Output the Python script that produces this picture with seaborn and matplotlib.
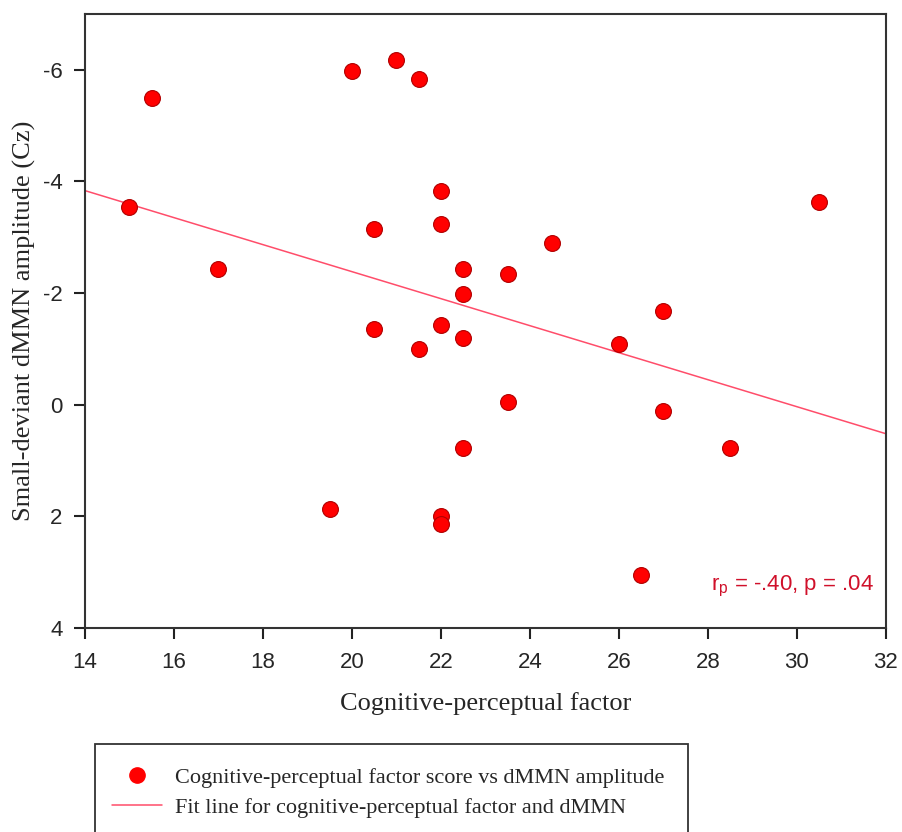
import matplotlib
matplotlib.use('agg')
import matplotlib.pyplot as plt
import matplotlib.patches as mpatches
from matplotlib.lines import Line2D
import seaborn as sns
import pandas as pd

# data
factor_score = [15, 15.5, 17, 20, 21, 21.5, 20.5, 20.5, 21.5, 22, 22, 22, 22.5, 22.5,
                22.5, 23.5, 24.5, 23.5, 22.5, 19.5, 22, 22, 26, 27, 27, 28.5, 26.5, 30.5]
dmmn_amp = [-3.55, -5.5, -2.44, -5.97, -6.17, -5.83, -3.15, -1.35, -0.99, -3.82, -3.24,
            -1.42, -2.44, -1.99, -1.19, -2.35, -2.9, -0.04, 0.77, 1.86, 2.0, 2.13,
            -1.08, -1.68, 0.11, 0.77, 3.05, -3.64]
x_ticks = [14, 16, 18, 20, 22, 24, 26, 28, 30, 32]
y_ticks = [-6, -4, -2, 0, 2, 4]

df = pd.DataFrame({'factor': factor_score, 'amp': dmmn_amp})

sns.set_style('ticks')
plt.rcParams['axes.unicode_minus'] = False
serif = ['Liberation Serif', 'DejaVu Serif']
sans = ['Liberation Sans', 'DejaVu Sans']

fig = plt.figure(figsize=(9.02, 8.32), dpi=100)
ax = fig.add_axes([0.0942, 0.2452, 0.888, 0.738])
ax.set_xlim(14, 32)
ax.set_ylim(4, -7)

line_col = '#ff4d6a'
dot_col = '#ff0000'

sns.regplot(data=df, x='factor', y='amp', ax=ax, ci=None, truncate=False,
            scatter_kws=dict(s=130, color=dot_col, edgecolor='#b00000', linewidths=0.8, alpha=1, zorder=3),
            line_kws=dict(color=line_col, lw=1.1, zorder=2))
ax.set_xlim(14, 32)
ax.set_ylim(4, -7)

ax.set_xticks(x_ticks)
ax.set_yticks(y_ticks)
for lab in ax.get_xticklabels() + ax.get_yticklabels():
    lab.set_family(sans)
    lab.set_fontsize(16)
ax.tick_params(direction='out', length=8, width=1.5, color='#222222')
ax.tick_params(axis='x', pad=9)
ax.tick_params(axis='y', pad=8)
for s in ax.spines.values():
    s.set_linewidth(1.5)
    s.set_color('#333333')

ax.set_xlabel('Cognitive-perceptual factor', family=serif, fontsize=19, labelpad=14)
ax.set_ylabel('Small-deviant dMMN amplitude (Cz)', family=serif, fontsize=19, labelpad=5)

ax.text(0.985, 0.047, r'r$_\mathregular{p}$ = -.40, p = .04', transform=ax.transAxes,
        ha='right', va='bottom', color='#d0102a', fontsize=16, family=sans)

# legend box, cut off at the bottom of the image like the original
fig.patches.append(mpatches.Rectangle((0.1053, -0.05), 0.657, 0.1558, transform=fig.transFigure,
                                      fill=False, edgecolor='#333333', lw=1.3))
handles = [Line2D([], [], ls='none', marker='o', markersize=11, color=dot_col),
           Line2D([], [], color=line_col, lw=1.1)]
labels = ['Cognitive-perceptual factor score vs dMMN amplitude',
          'Fit line for cognitive-perceptual factor and dMMN']
fig.legend(handles, labels, loc='upper left', bbox_to_anchor=(0.1242, 0.078),
           frameon=False, prop={'family': serif, 'size': 16}, handlelength=2.25,
           handletextpad=0.6, labelspacing=0.45, borderaxespad=0, borderpad=0)

fig.savefig('out.png', dpi=100)
